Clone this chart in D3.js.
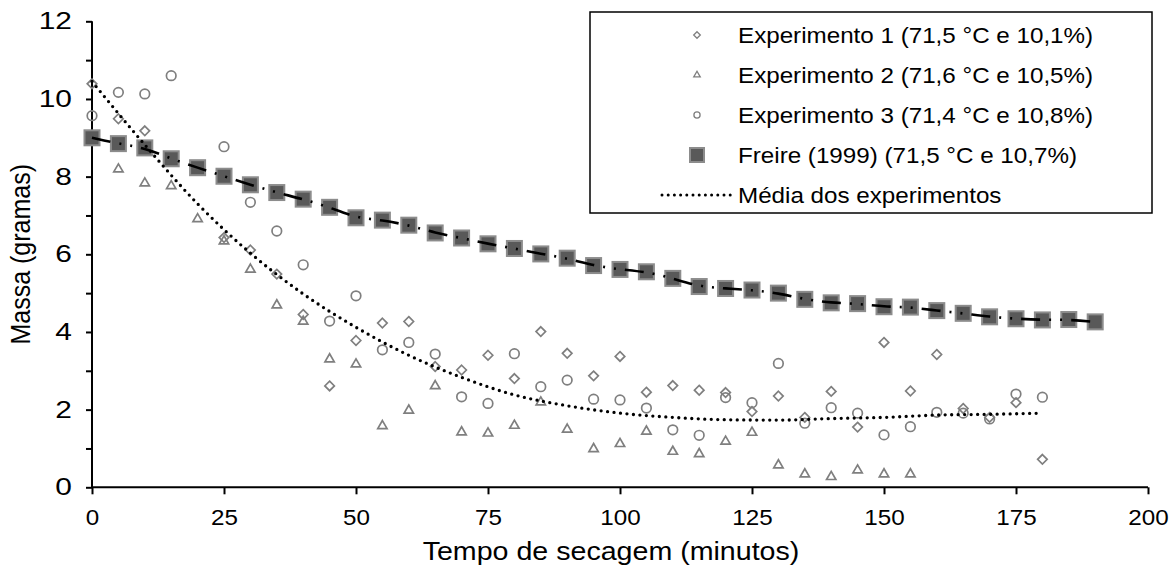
<!DOCTYPE html>
<html>
<head>
<meta charset="utf-8">
<script src="https://cdn.jsdelivr.net/npm/d3@7"></script>
<style>
  html, body { margin: 0; padding: 0; background: #fff; }
  svg { display: block; font-family: "Liberation Sans", Arial, sans-serif; }
</style>
</head>
<body>
<svg id="chart" width="1171" height="566"></svg>
<script>
// ---- Data ----
const tempo = d3.range(0, 181, 5);
const tempoFreire = d3.range(0, 191, 5);

const exp1 = [10.39, 9.49, 9.18, 8.45, 8.2, 6.43, 6.11, 5.49, 4.45, 2.61, 3.78, 4.23, 4.27, 3.11, 3.02, 3.40, 2.80, 4.01, 3.45, 2.87,
  3.37, 2.45, 2.62, 2.50, 2.44, 1.95, 2.35, 1.80, 2.47, 1.55, 3.73, 2.48, 3.42, 2.03, 1.80, 2.18, 0.72];
const exp2 = [9.0, 8.19, 7.83, 7.76, 6.91, 6.34, 5.61, 4.69, 4.27, 3.30, 3.17, 1.58, 1.98, 2.61, 1.42, 1.39, 1.59, 2.19, 1.49, 0.99,
  1.12, 1.44, 0.92, 0.86, 1.18, 1.41, 0.57, 0.34, 0.27, 0.44, 0.34, 0.34, null, null, null, null, null];
const exp3 = [9.57, 10.17, 10.13, 10.6, 8.2, 8.77, 7.34, 6.6, 5.73, 4.28, 4.93, 3.54, 3.73, 3.43, 2.33, 2.16, 3.44, 2.59, 2.76, 2.27,
  2.25, 2.04, 1.48, 1.34, 2.31, 2.18, 3.19, 1.65, 2.05, 1.91, 1.35, 1.56, 1.93, 1.91, 1.76, 2.40, 2.32];
const freire = [9.0, 8.85, 8.74, 8.46, 8.23, 8.01, 7.79, 7.59, 7.42, 7.21, 6.94, 6.88, 6.75, 6.55, 6.42, 6.27, 6.15, 6.01, 5.90, 5.71,
  5.61, 5.55, 5.38, 5.17, 5.12, 5.08, 5.00, 4.84, 4.75, 4.73, 4.65, 4.64, 4.55, 4.48, 4.39, 4.34, 4.31, 4.32, 4.26];

// average curve of the experiments, read every 10 min
const tempoMedia = d3.range(0, 181, 10);
const media = [10.45, 8.82, 7.30, 6.03, 4.98, 4.12, 3.40, 2.83, 2.38, 2.10, 1.91, 1.80, 1.74, 1.73, 1.77, 1.80, 1.86, 1.88, 1.91];

const xTicks = [0, 25, 50, 75, 100, 125, 150, 175, 200];
const yTicks = [0, 2, 4, 6, 8, 10, 12];
const legendLabels = [
  'Experimento 1 (71,5 °C e 10,1%)',
  'Experimento 2 (71,6 °C e 10,5%)',
  'Experimento 3 (71,4 °C e 10,8%)',
  'Freire (1999) (71,5 °C e 10,7%)',
  'Média dos experimentos'
];

// ---- Layout ----
const svg = d3.select('#chart');
const margin = { top: 21.3, right: 23, bottom: 78.7, left: 92 };
const W = 1171, H = 566;
const iw = W - margin.left - margin.right;
const ih = H - margin.top - margin.bottom;
const g = svg.append('g').attr('transform', `translate(${margin.left},${margin.top})`);

const x = d3.scaleLinear().domain([0, 200]).range([0, iw]);
const y = d3.scaleLinear().domain([0, 12]).range([ih, 0]);

const grey = '#7f7f7f';
const sx = 1.1; // the reference text is a little wide

// ---- Axes ----
const yAxis = g.append('g')
  .call(d3.axisLeft(y).tickValues(d3.range(0, 13, 1)).tickSize(6).tickPadding(9.4)
    .tickFormat(d => yTicks.includes(d) ? d : ''));
const xAxis = g.append('g')
  .attr('transform', `translate(0,${ih})`)
  .call(d3.axisBottom(x).tickValues(xTicks).tickSize(7).tickPadding(15));

[xAxis, yAxis].forEach(a => {
  a.select('.domain').attr('stroke', '#000').attr('stroke-width', 2);
  a.selectAll('.tick line').attr('stroke', '#000').attr('stroke-width', 2);
  a.selectAll('.tick text').attr('font-size', 22).attr('fill', '#000')
    .attr('font-family', '"Liberation Sans", Arial, sans-serif')
    .attr('transform', `scale(${sx},1)`);
});
// y labels are drawn wider still in the reference
yAxis.selectAll('.tick text').attr('font-size', 23).attr('transform', 'scale(1.3,1)');
xAxis.select('.domain').attr('d', `M0,0H${iw}`);
yAxis.select('.domain').attr('d', `M0,0V${ih}`);

// axis titles
svg.append('text')
  .attr('transform', `translate(611,560) scale(${sx},1)`)
  .attr('text-anchor', 'middle')
  .attr('font-size', 26)
  .text('Tempo de secagem (minutos)');

svg.append('text')
  .attr('transform', `translate(30,${margin.top + ih / 2}) rotate(-90) scale(1,${sx})`)
  .attr('text-anchor', 'middle')
  .attr('font-size', 25)
  .text('Massa (gramas)');

// ---- Symbols ----
const diamond = d3.symbol().type(d3.symbolDiamond2);
const triangle = d3.symbol().type(d3.symbolTriangle2);
const circle = d3.symbol().type(d3.symbolCircle);

function scatter(values, sym, size) {
  const pts = tempo.map((t, i) => ({ t, v: values[i] })).filter(d => d.v != null);
  g.append('g').selectAll('path').data(pts).join('path')
    .attr('transform', d => `translate(${x(d.t)},${y(d.v)})`)
    .attr('d', sym.size(size)())
    .attr('fill', 'none')
    .attr('stroke', grey)
    .attr('stroke-width', 1.7);
}

scatter(exp1, diamond, 58);
scatter(exp2, triangle, 62);
scatter(exp3, circle, 72);

// ---- Freire squares ----
const sq = 15;
g.append('g').selectAll('rect')
  .data(tempoFreire.map((t, i) => ({ t, v: freire[i] })))
  .join('rect')
  .attr('x', d => x(d.t) - sq / 2)
  .attr('y', d => y(d.v) - sq / 2)
  .attr('width', sq).attr('height', sq)
  .attr('fill', '#595959')
  .attr('stroke', '#8c8c8c')
  .attr('stroke-width', 2);

// Freire line: long dash, dot, dot
g.append('path')
  .datum(tempoFreire.map((t, i) => [t, freire[i]]))
  .attr('d', d3.line().x(d => x(d[0])).y(d => y(d[1])).curve(d3.curveBasis))
  .attr('fill', 'none')
  .attr('stroke', '#000')
  .attr('stroke-width', 2.6)
  .attr('stroke-dasharray', '19,9,2,9,2,9');

// ---- Average (dotted) ----
g.append('path')
  .datum(tempoMedia.map((t, i) => [t, media[i]]))
  .attr('d', d3.line().x(d => x(d[0])).y(d => y(d[1])).curve(d3.curveMonotoneX))
  .attr('fill', 'none')
  .attr('stroke', '#000')
  .attr('stroke-width', 3.3)
  .attr('stroke-linecap', 'round')
  .attr('stroke-dasharray', '0,6.5');

// ---- Legend ----
const lg = svg.append('g');
lg.append('rect')
  .attr('x', 590).attr('y', 12)
  .attr('width', 562).attr('height', 201)
  .attr('fill', '#fff')
  .attr('stroke', '#000')
  .attr('stroke-width', 1.5);

const rowY = i => 35 + i * 40;
const mx = 697;
lg.append('path').attr('transform', `translate(${mx},${rowY(0)})`)
  .attr('d', diamond.size(28)()).attr('fill', 'none').attr('stroke', grey).attr('stroke-width', 1.3);
lg.append('path').attr('transform', `translate(${mx},${rowY(1)})`)
  .attr('d', triangle.size(30)()).attr('fill', 'none').attr('stroke', grey).attr('stroke-width', 1.3);
lg.append('path').attr('transform', `translate(${mx},${rowY(2)})`)
  .attr('d', circle.size(30)()).attr('fill', 'none').attr('stroke', grey).attr('stroke-width', 1.3);
lg.append('rect')
  .attr('x', mx - 7).attr('y', rowY(3) - 7).attr('width', 14).attr('height', 14)
  .attr('fill', '#595959').attr('stroke', '#8c8c8c').attr('stroke-width', 2);
lg.append('line')
  .attr('x1', 662).attr('x2', 734).attr('y1', rowY(4)).attr('y2', rowY(4))
  .attr('stroke', '#000').attr('stroke-width', 3)
  .attr('stroke-linecap', 'round').attr('stroke-dasharray', '0,6.2');

lg.selectAll('text.lab').data(legendLabels).join('text')
  .attr('class', 'lab')
  .attr('transform', (d, i) => `translate(738,${rowY(i)}) scale(${sx},1)`)
  .attr('dy', '0.35em')
  .attr('font-size', 22)
  .text(d => d);
</script>
</body>
</html>
